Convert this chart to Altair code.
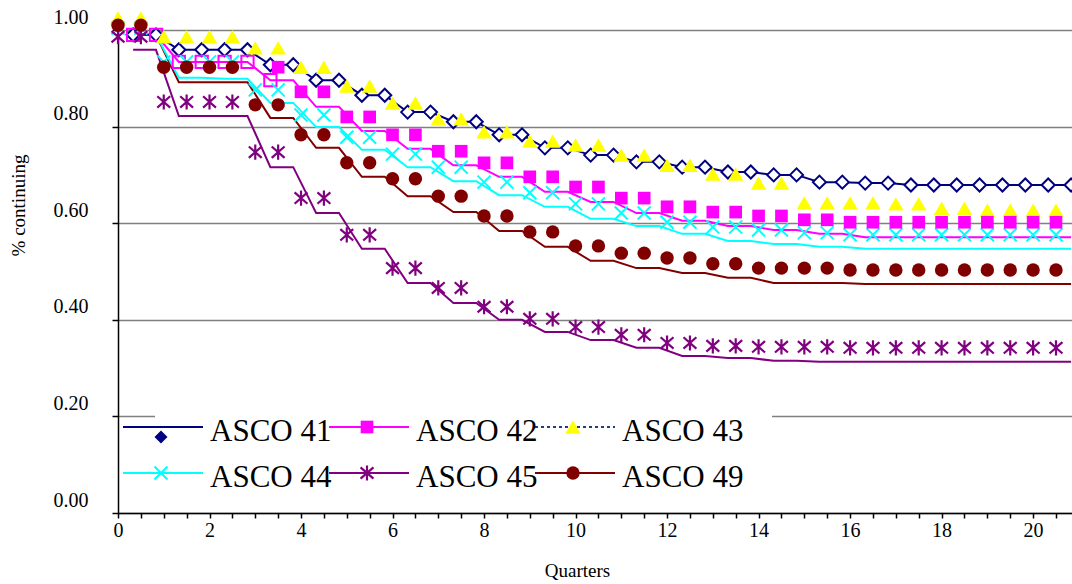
import altair as alt
import pandas as pd

# ---------------- data ----------------
quarters = list(range(21))
series_names = ["ASCO 41", "ASCO 42", "ASCO 43", "ASCO 44", "ASCO 45", "ASCO 49"]

# step lines: one value per quarter
line_asco41 = [0.990, 0.959, 0.959, 0.928, 0.896, 0.865, 0.830, 0.810, 0.783, 0.756, 0.741,
               0.727, 0.716, 0.706, 0.700, 0.685, 0.683, 0.679, 0.679, 0.679, 0.679]
line_asco42 = [0.990, 0.934, 0.934, 0.896, 0.841, 0.791, 0.754, 0.720, 0.696, 0.665, 0.644,
               0.621, 0.605, 0.594, 0.586, 0.578, 0.571, 0.571, 0.571, 0.571, 0.571]
line_asco44 = [0.990, 0.901, 0.899, 0.849, 0.799, 0.752, 0.716, 0.687, 0.658, 0.634, 0.609,
               0.594, 0.578, 0.563, 0.557, 0.551, 0.547, 0.547, 0.547, 0.547, 0.547]
line_asco45 = [0.959, 0.822, 0.822, 0.716, 0.621, 0.547, 0.476, 0.435, 0.400, 0.375, 0.358,
               0.342, 0.325, 0.321, 0.315, 0.313, 0.313, 0.313, 0.313, 0.313, 0.313]
line_asco49 = [0.990, 0.892, 0.892, 0.818, 0.756, 0.696, 0.656, 0.623, 0.584, 0.551, 0.522,
               0.507, 0.497, 0.487, 0.476, 0.476, 0.474, 0.474, 0.474, 0.474, 0.474]

# marker series: one value per quarter
pts_asco42 = [None, None, None, 0.923, 0.872, 0.820, 0.783, 0.749, 0.725, 0.696, 0.675,
              0.652, 0.634, 0.623, 0.615, 0.607, 0.602, 0.602, 0.602, 0.602, 0.602]
pts_asco43 = [1.025, 0.986, 0.986, 0.963, 0.923, 0.884, 0.849, 0.816, 0.789, 0.770, 0.762,
              0.741, 0.720, 0.702, 0.683, 0.642, 0.642, 0.640, 0.631, 0.627, 0.627]
pts_asco44 = [1.004, 0.934, 0.934, 0.876, 0.824, 0.778, 0.743, 0.716, 0.685, 0.663, 0.640,
              0.621, 0.602, 0.592, 0.586, 0.580, 0.576, 0.576, 0.576, 0.576, 0.576]
pts_asco45 = [0.986, 0.851, 0.851, 0.747, 0.652, 0.576, 0.507, 0.466, 0.427, 0.402, 0.385,
              0.369, 0.352, 0.346, 0.344, 0.344, 0.342, 0.342, 0.342, 0.342, 0.342]
pts_asco49 = [1.010, 0.923, 0.923, 0.845, 0.783, 0.725, 0.692, 0.656, 0.615, 0.582, 0.553,
              0.538, 0.528, 0.516, 0.507, 0.507, 0.503, 0.503, 0.503, 0.503, 0.503]

x_ticks = [i / 2 for i in range(42)]
y_ticks = [0.0, 0.2, 0.4, 0.6, 0.8, 1.0]

# ---------------- styles ----------------
COL = {"ASCO 41": "#000080", "ASCO 42": "#FF00FF", "ASCO 43": "#FFFF00",
       "ASCO 44": "#00FFFF", "ASCO 45": "#800080", "ASCO 49": "#800000"}
X_PATH = "M-1,-1L1,1M-1,1L1,-1"
STAR_PATH = "M0,-1L0,1M-0.85,-0.75L0.85,0.75M-0.85,0.75L0.85,-0.75"
FONT = "Times New Roman, Liberation Serif, serif"

lines = {"ASCO 41": line_asco41, "ASCO 42": line_asco42, "ASCO 44": line_asco44,
         "ASCO 45": line_asco45, "ASCO 49": line_asco49}
points = {"ASCO 42": pts_asco42, "ASCO 43": pts_asco43, "ASCO 44": pts_asco44,
          "ASCO 45": pts_asco45, "ASCO 49": pts_asco49}
first_x = {"ASCO 42": 3.5}

line_rows = []
for name, vals in lines.items():
    for q, v in zip(quarters, vals):
        for dx in (0.33, 0.83):
            line_rows.append({"series": name, "x": q + dx, "y": v})
line_df = pd.DataFrame(line_rows)

pt_rows = []
for name, vals in points.items():
    for q, v in zip(quarters, vals):
        if v is None:
            continue
        for dx in (0.0, 0.5):
            if q + dx < first_x.get(name, 0):
                continue
            pt_rows.append({"series": name, "x": q + dx, "y": v})
pt_df = pd.DataFrame(pt_rows)

xscale = alt.Scale(domain=[0, 20.85], nice=False, zero=False)
yscale = alt.Scale(domain=[0, 1.0], nice=False, zero=False)

x_axis = alt.Axis(values=x_ticks, labelExpr="datum.value % 2 === 0 ? format(datum.value, 'd') : ''",
                  title="Quarters", labelFont=FONT, labelFontSize=20, labelColor="black",
                  tickColor="black", tickSize=5, tickWidth=1.5, domainColor="black", domainWidth=1.5,
                  labelPadding=2, labelFlush=False, labelOverlap=False, grid=False,
                  titleFont=FONT, titleFontSize=19, titleFontWeight="normal", titleColor="black",
                  titleX=459, titleY=57, titleAlign="center", titleBaseline="middle")
y_axis = alt.Axis(values=y_ticks, format=".2f", title="% continuing", labelFont=FONT,
                  labelFontSize=20, labelColor="black", labelOffset=-13, tickColor="black",
                  tickSize=6, tickWidth=1.5, labelPadding=24, grid=True, gridColor="#808080",
                  gridWidth=1.5, domainColor="black", domainWidth=1.5, titleFont=FONT,
                  titleFontSize=19, titleFontWeight="normal", titleColor="black",
                  titleX=-100, titleY=175, titleAlign="center", titleBaseline="middle",
                  titleAngle=270)

X = alt.X("x:Q", scale=xscale, axis=x_axis)
Y = alt.Y("y:Q", scale=yscale, axis=y_axis)

layers = []
line_order = ["ASCO 49", "ASCO 45", "ASCO 44", "ASCO 42", "ASCO 41"]
for name in line_order:
    layers.append(alt.Chart(line_df[line_df.series == name]).mark_line(
        strokeWidth=2, color=COL[name]).encode(x=X, y=Y))

# markers on the ASCO 41 line (hollow diamonds) and first points of ASCO 42 line
layers.append(alt.Chart(line_df[line_df.series == "ASCO 41"]).mark_point(
    shape="diamond", size=170, fill="white", stroke=COL["ASCO 41"], strokeWidth=2,
    opacity=1, fillOpacity=1).encode(x=X, y=Y))
layers.append(alt.Chart(line_df[line_df.series == "ASCO 42"].head(7)).mark_point(
    shape="square", size=150, fill="white", fillOpacity=0, stroke=COL["ASCO 42"],
    strokeWidth=2, opacity=1).encode(x=X, y=Y))

marker_style = {
    "ASCO 44": dict(shape=X_PATH, filled=False, size=170, strokeWidth=2),
    "ASCO 43": dict(shape="triangle-up", filled=True, size=240),
    "ASCO 42": dict(shape="square", filled=True, size=160),
    "ASCO 45": dict(shape=STAR_PATH, filled=False, size=230, strokeWidth=2.2),
    "ASCO 49": dict(shape="circle", filled=True, size=180),
}
for name, st in marker_style.items():
    layers.append(alt.Chart(pt_df[pt_df.series == name]).mark_point(
        color=COL[name], opacity=1, **st).encode(x=X, y=Y))

# ---------------- legend (drawn in pixel space) ----------------
leg_rows = []
for i, name in enumerate(series_names):
    col, row = i % 3, i // 3
    lx0 = 5 + 206 * col
    ly = 397 + 46 * row
    leg_rows.append({"series": name, "lx0": lx0, "lx1": lx0 + 80, "ly": ly,
                     "mx": lx0 + 38, "my": ly + (10 if name == "ASCO 41" else 0),
                     "tx": lx0 + 87, "ty": ly + 5})
leg_df = pd.DataFrame(leg_rows)

PX = lambda f: alt.X(f, scale=None, axis=None)
PY = lambda f: alt.Y(f, scale=None, axis=None)

layers.append(alt.Chart(pd.DataFrame({"a": [0]})).mark_rect(color="white").encode(
    x=alt.value(37), x2=alt.value(654), y=alt.value(383), y2=alt.value(470)))

leg_line_col = dict(COL)
leg_line_col["ASCO 43"] = "#1f3f80"
for name in series_names:
    d = leg_df[leg_df.series == name]
    dash = [3, 3] if name == "ASCO 43" else [1, 0]
    layers.append(alt.Chart(d).mark_rule(color=leg_line_col[name], strokeWidth=2,
                                         strokeDash=dash).encode(
        x=PX("lx0:Q"), x2="lx1:Q", y=PY("ly:Q")))

leg_marker = {
    "ASCO 41": dict(shape="diamond", filled=True, size=170),
    "ASCO 42": dict(shape="square", filled=True, size=160),
    "ASCO 43": dict(shape="triangle-up", filled=True, size=240),
    "ASCO 44": dict(shape=X_PATH, filled=False, size=170, strokeWidth=2),
    "ASCO 45": dict(shape=STAR_PATH, filled=False, size=230, strokeWidth=2.2),
    "ASCO 49": dict(shape="circle", filled=True, size=180),
}
for name in series_names:
    d = leg_df[leg_df.series == name]
    layers.append(alt.Chart(d).mark_point(color=COL[name], opacity=1, **leg_marker[name]).encode(
        x=PX("mx:Q"), y=PY("my:Q")))

layers.append(alt.Chart(leg_df).mark_text(align="left", baseline="middle", font=FONT,
                                          fontSize=31, color="black").encode(
    x=PX("tx:Q"), y=PY("ty:Q"), text="series:N"))

chart = alt.layer(*layers).properties(
    width=954, height=483,
    padding={"left": 118, "top": 30, "right": 0, "bottom": 71},
    autosize=alt.AutoSizeParams(type="none"),
    background="white",
).configure_view(stroke=None)

chart.save("out.html", embed_options={"renderer": "svg", "actions": False})
